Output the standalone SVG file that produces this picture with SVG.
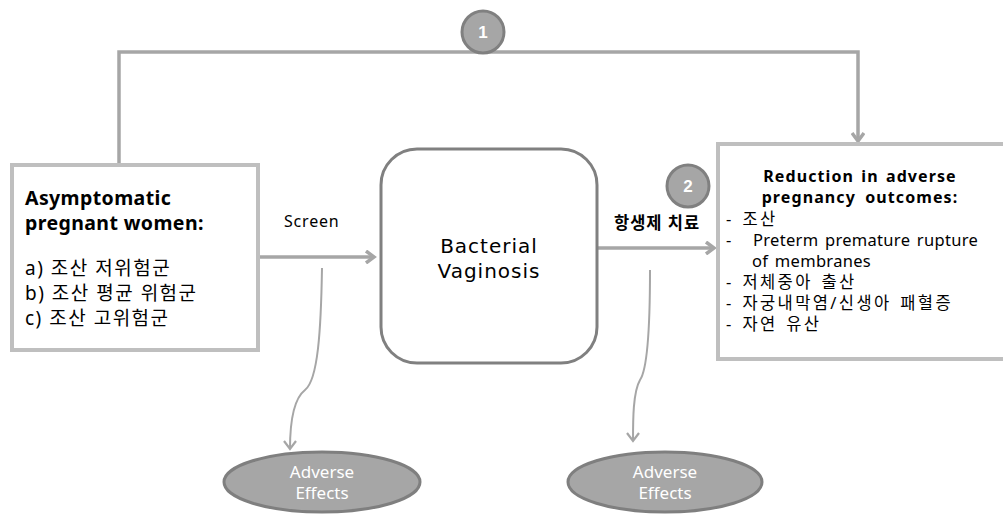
<svg xmlns="http://www.w3.org/2000/svg" width="1003" height="516" viewBox="0 0 1003 516">
<style>
.box{fill:#fff;stroke:#bfbfbf;stroke-width:4}
.conn{fill:none;stroke:#a6a6a6;stroke-width:3.5}
.thin{fill:none;stroke:#a6a6a6;stroke-width:2}
.t{font-family:"Noto Sans","Noto Sans CJK KR",sans-serif;fill:#000}
.b{font-weight:bold}
.badge{fill:#a6a6a6;stroke:#808080;stroke-width:3}
.bt{font-family:"Liberation Sans",Arial,sans-serif;font-weight:bold;fill:#fff;font-size:17px;text-anchor:middle}
.ell{fill:#a6a6a6;stroke:#7f7f7f;stroke-width:3}
.et{font-family:"Noto Sans",sans-serif;fill:#fff;font-size:17px;text-anchor:middle}
.ko{font-size:19px;letter-spacing:1.5px}
.rl{font-size:16.5px;letter-spacing:0.3px;word-spacing:2px}
.rk{font-size:16.5px;letter-spacing:2.4px;word-spacing:2px}
</style>
<defs>
<marker id="ah" markerWidth="14" markerHeight="14" refX="11" refY="7" orient="auto" markerUnits="userSpaceOnUse">
<path d="M3,1 L11,7 L3,13" fill="none" stroke="#a6a6a6" stroke-width="3.5"/>
</marker>
<marker id="ah2" markerWidth="14" markerHeight="14" refX="11" refY="7" orient="auto" markerUnits="userSpaceOnUse">
<path d="M3,1 L11,7 L3,13" fill="none" stroke="#a6a6a6" stroke-width="2.2"/>
</marker>
</defs>
<g id="connectors">
<path class="conn" d="M119,165 L119,52 L858,52 L858,141" marker-end="url(#ah)"/>
<path class="conn" d="M258,257 L374,257" marker-end="url(#ah)"/>
<path class="conn" d="M598,248 L714,248" marker-end="url(#ah)"/>
<path class="thin" d="M322,268 C321,330 318,380 305,390 C292,400 290,430 290,449" marker-end="url(#ah2)"/>
<path class="thin" d="M650,270 C650,330 647,370 640,380 C633,392 633,420 633,441" marker-end="url(#ah2)"/>
<text class="t" x="284" y="227" font-size="16" letter-spacing="0.8">Screen</text>
<text class="t b" x="614" y="229" font-size="16.5" letter-spacing="1">항생제 치료</text>
</g>
<g id="badge1">
<circle class="badge" cx="483" cy="32" r="21"/>
<text class="bt" x="483" y="38">1</text>
</g>
<g id="badge2">
<circle class="badge" cx="688" cy="186" r="21"/>
<text class="bt" x="688" y="192">2</text>
</g>
<g id="population">
<rect class="box" x="12" y="165" width="246" height="185"/>
<text class="t b" x="25" y="205" font-size="19.5" letter-spacing="0.4">Asymptomatic</text>
<text class="t b" x="25" y="230" font-size="19.5" letter-spacing="0.4">pregnant women:</text>
<text class="t ko" x="25" y="275">a) 조산 저위험군</text>
<text class="t ko" x="25" y="300">b) 조산 평균 위험군</text>
<text class="t ko" x="25" y="325">c) 조산 고위험군</text>
</g>
<g id="bv">
<rect x="381" y="149" width="216" height="214" rx="36" fill="#fff" stroke="#808080" stroke-width="3"/>
<text x="489" y="253" font-family="DejaVu Sans,sans-serif" font-size="20" text-anchor="middle" letter-spacing="1">Bacterial</text>
<text x="489" y="278" font-family="DejaVu Sans,sans-serif" font-size="20" text-anchor="middle" letter-spacing="1">Vaginosis</text>
</g>
<g id="outcomes">
<rect class="box" x="718" y="144" width="290" height="215"/>
<text class="t b" x="860" y="182" font-size="16" letter-spacing="1.1" word-spacing="2" text-anchor="middle">Reduction in adverse</text>
<text class="t b" x="860" y="203" font-size="16" letter-spacing="1.1" word-spacing="4" text-anchor="middle">pregnancy outcomes:</text>
<text class="t rk" x="726" y="225">- 조산</text>
<text class="t rl" x="726" y="246">-<tspan x="753">Preterm premature rupture</tspan></text>
<text class="t rl" x="752" y="267">of membranes</text>
<text class="t rk" x="726" y="288">- 저체중아 출산</text>
<text class="t rk" x="726" y="309">- 자궁내막염/신생아 패혈증</text>
<text class="t rk" x="726" y="330">- 자연 유산</text>
</g>
<g id="ae1">
<ellipse class="ell" cx="322" cy="482" rx="98" ry="30"/>
<text class="et" x="322" y="478">Adverse</text>
<text class="et" x="322" y="499">Effects</text>
</g>
<g id="ae2">
<ellipse class="ell" cx="665" cy="482" rx="97" ry="30"/>
<text class="et" x="665" y="478">Adverse</text>
<text class="et" x="665" y="499">Effects</text>
</g>
</svg>
